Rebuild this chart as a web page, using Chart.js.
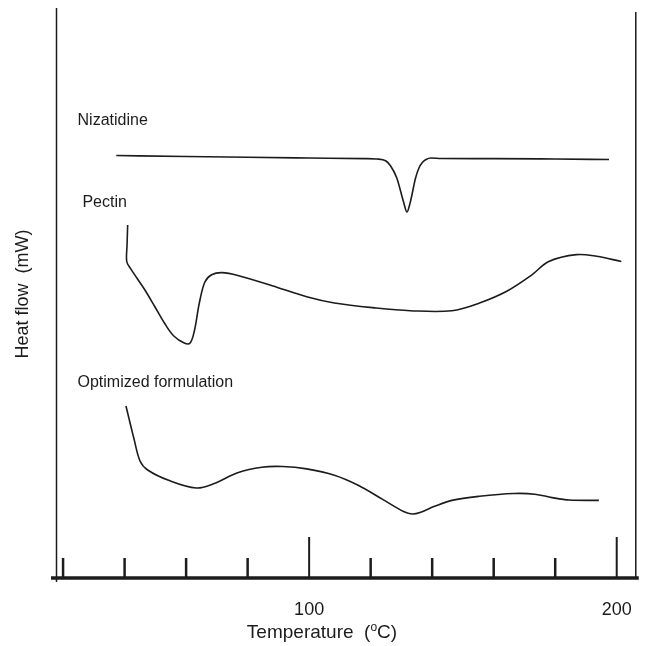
<!DOCTYPE html>
<html>
<head>
<meta charset="utf-8">
<script src="https://cdn.jsdelivr.net/npm/chart.js@4"></script>
<style>
  html, body { margin: 0; padding: 0; background: #fff; }
  #wrap { width: 645px; height: 646px; }
</style>
</head>
<body>
<div id="wrap"><canvas id="chart" width="645" height="646"></canvas></div>
<script>
// temperature (°C) / heat flow (arbitrary)
const nizX = [37.3, 60, 80, 100, 118, 122, 125, 126.5, 128.5, 130.7, 131.8, 132.9, 134.6, 135.7, 136.8, 138, 139.6, 143, 160, 180, 197.5];
const nizY = [42.25, 42.15, 42.07, 42.0, 41.94, 41.9, 41.7, 41.2, 40.0, 37.6, 36.6, 37.6, 40.0, 41.0, 41.55, 41.85, 42.0, 41.95, 41.94, 41.9, 41.85];

const pecX = [41.0, 40.8, 40.7, 41.9, 46.4, 49.8, 53.1, 56.0, 59.4, 61.3, 62.7, 64.3, 66.1, 68.3, 71.7, 76.8, 88.0, 99.2, 108.2, 121.7, 132.9, 146.4, 155.4, 164.4, 172.2, 177.9, 186.9, 193.5, 201.5];
const pecY = [35.3, 33.3, 31.65, 30.96, 28.9, 27.15, 25.42, 24.2, 23.5, 23.5, 24.73, 27.5, 29.6, 30.33, 30.54, 30.26, 29.23, 28.12, 27.5, 27.0, 26.73, 26.73, 27.5, 28.7, 30.26, 31.65, 32.34, 32.17, 31.65];

const optX = [40.45, 43.05, 45.06, 47.5, 54.3, 63.3, 68.9, 76.75, 84.6, 91.4, 99.2, 108.2, 116.1, 123.9, 130.7, 133.5, 136.3, 140.8, 146.4, 155.4, 166.6, 173.4, 179.0, 184.6, 194.2];
const optY = [17.2, 13.92, 11.67, 10.8, 9.77, 9.0, 9.42, 10.53, 11.08, 11.15, 10.91, 10.28, 9.25, 7.86, 6.65, 6.4, 6.58, 7.17, 7.76, 8.17, 8.45, 8.38, 8.04, 7.8, 7.76];

const tickValues = [20, 40, 60, 80, 100, 120, 140, 160, 180, 200];
const majorTicks = [100, 200];

// curve names and where they sit
const curveNames = ["Nizatidine", "Pectin", "Optimized formulation"];
const nameX = [24.7, 26.3, 24.7];
const nameY = [45.3, 37.1, 19.1];

const INK = "#1c1c1c";
const FONT = "'Liberation Sans', Arial, sans-serif";

function toPoints(xs, ys) {
    return xs.map((x, i) => ({ x: x, y: ys[i] }));
}

// axis frame, tick marks, curve names, x title
const framePlugin = {
    id: "frame",
    afterDraw(chart) {
        const ctx = chart.ctx;
        const xs = chart.scales.x;
        const ys = chart.scales.y;
        const area = chart.chartArea;
        ctx.save();
        ctx.strokeStyle = INK;
        ctx.lineCap = "butt";

        // vertical frame lines
        ctx.lineWidth = 1.5;
        ctx.beginPath();
        ctx.moveTo(area.left + 0.5, area.top - 2);
        ctx.lineTo(area.left + 0.5, area.bottom + 4);
        ctx.moveTo(area.right, area.top + 2);
        ctx.lineTo(area.right, area.bottom);
        ctx.stroke();

        // tick marks, drawn upward
        tickValues.forEach(v => {
            const px = xs.getPixelForValue(v);
            const len = majorTicks.includes(v) ? 41 : 20;
            ctx.lineWidth = majorTicks.includes(v) ? 2 : 2.5;
            ctx.beginPath();
            ctx.moveTo(px, area.bottom);
            ctx.lineTo(px, area.bottom - len);
            ctx.stroke();
        });

        // base line
        ctx.lineWidth = 3.5;
        ctx.beginPath();
        ctx.moveTo(area.left - 5, area.bottom);
        ctx.lineTo(area.right + 3, area.bottom);
        ctx.stroke();

        // curve names
        ctx.fillStyle = INK;
        ctx.font = "16px " + FONT;
        ctx.textBaseline = "alphabetic";
        ctx.textAlign = "left";
        curveNames.forEach((n, i) => {
            ctx.fillText(n, xs.getPixelForValue(nameX[i]), ys.getPixelForValue(nameY[i]));
        });

        // x title with superscript o
        const big = "19px " + FONT;
        const small = "12px " + FONT;
        const partA = "Temperature  (";
        const partB = "o";
        const partC = "C)";
        ctx.font = big;
        const wA = ctx.measureText(partA).width;
        const wC = ctx.measureText(partC).width;
        ctx.font = small;
        const wB = ctx.measureText(partB).width;
        const total = wA + wB + wC;
        let x = 322 - total / 2;
        const base = 638;
        ctx.font = big;
        ctx.fillText(partA, x, base);
        x += wA;
        ctx.font = small;
        ctx.fillText(partB, x, base - 7);
        x += wB;
        ctx.font = big;
        ctx.fillText(partC, x, base);
        ctx.restore();
    }
};

const lineStyle = {
    borderColor: INK,
    borderWidth: 1.6,
    pointRadius: 0,
    tension: 0.35,
    fill: false,
};

new Chart(document.getElementById("chart").getContext("2d"), {
    type: "line",
    data: {
        datasets: [
            Object.assign({ label: curveNames[0], data: toPoints(nizX, nizY) }, lineStyle, { cubicInterpolationMode: "monotone" }),
            Object.assign({ label: curveNames[1], data: toPoints(pecX, pecY) }, lineStyle),
            Object.assign({ label: curveNames[2], data: toPoints(optX, optY) }, lineStyle),
        ],
    },
    options: {
        responsive: false,
        animation: false,
        layout: { padding: { top: 10, right: 8, left: 0, bottom: 0 } },
        plugins: {
            legend: { display: false },
            tooltip: { enabled: false },
        },
        scales: {
            x: {
                type: "linear",
                min: 17.7,
                max: 206.2,
                afterBuildTicks: (scale) => {
                    scale.ticks = tickValues.map(v => ({ value: v }));
                },
                afterFit: (scale) => { scale.height = 68; },
                grid: { display: false },
                border: { display: false },
                ticks: {
                    autoSkip: false,
                    maxRotation: 0,
                    padding: 13,
                    color: INK,
                    font: { family: FONT, size: 18 },
                    callback: (v) => (majorTicks.includes(v) ? String(v) : ""),
                },
            },
            y: {
                type: "linear",
                min: 0,
                max: 56.8,
                afterFit: (scale) => { scale.width = 56; },
                grid: { display: false },
                border: { display: false },
                ticks: { display: false },
                title: {
                    display: true,
                    text: "Heat flow  (mW)",
                    color: INK,
                    font: { family: FONT, size: 18 },
                    padding: { top: 12, bottom: 4 },
                },
            },
        },
    },
    plugins: [framePlugin],
});
</script>
</body>
</html>
